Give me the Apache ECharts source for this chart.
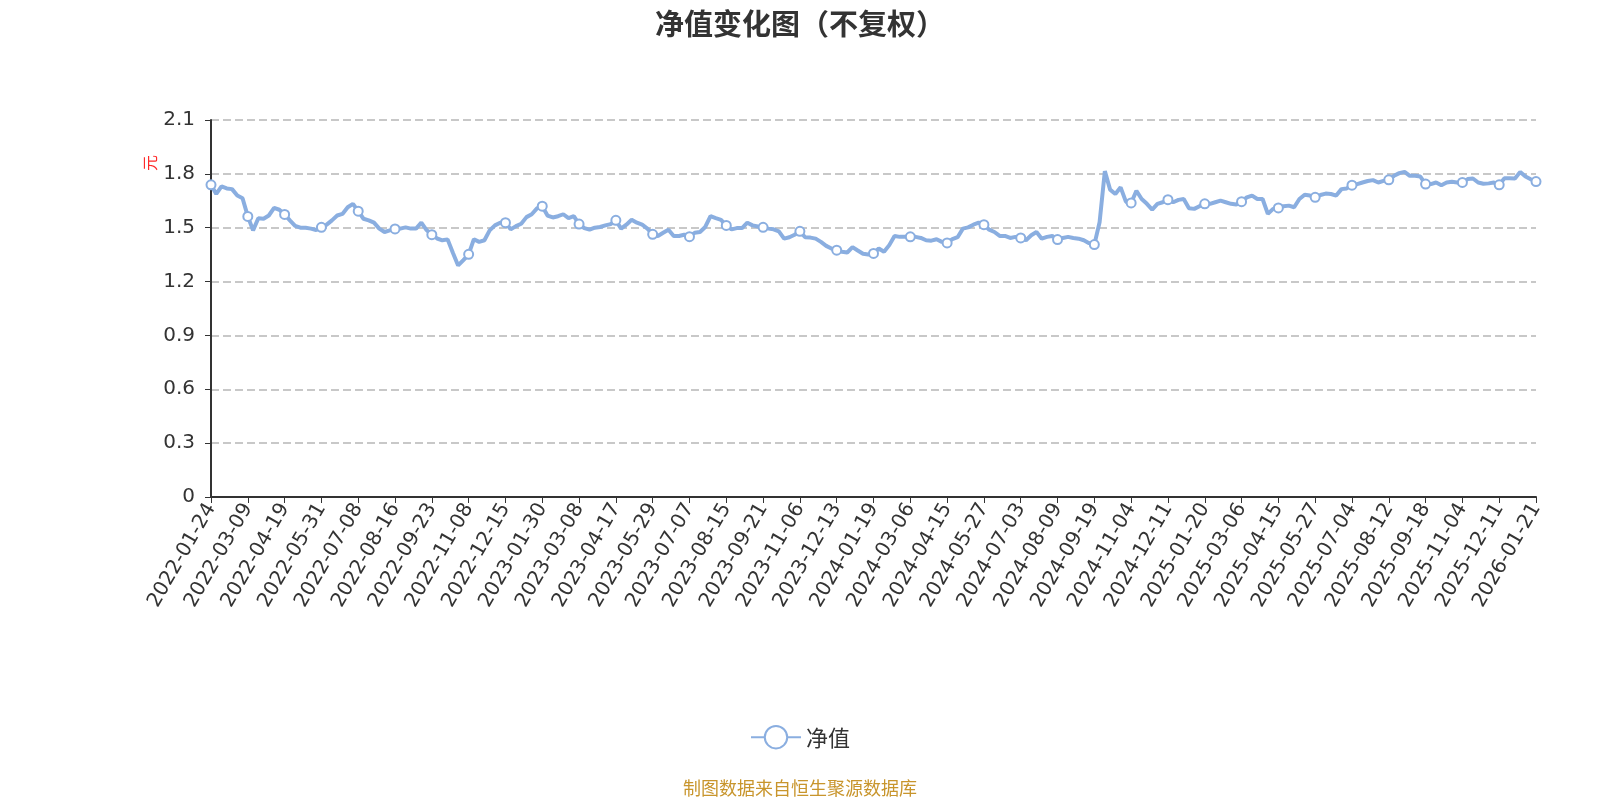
<!DOCTYPE html>
<html>
<head>
<meta charset="utf-8">
<title>净值变化图（不复权）</title>
<script src="https://cdn.jsdelivr.net/npm/echarts@6/dist/echarts.min.js"></script>
<style>
  html, body { margin: 0; padding: 0; background: #fff; }
  #chart { width: 1600px; height: 800px; }
</style>
</head>
<body>
<div id="chart"></div>
<script>
// dates printed under the x axis (one every 7 points)
const labelDates = [
  "2022-01-24", "2022-03-09", "2022-04-19", "2022-05-31", "2022-07-08", "2022-08-16",
  "2022-09-23", "2022-11-08", "2022-12-15", "2023-01-30", "2023-03-08", "2023-04-17",
  "2023-05-29", "2023-07-07", "2023-08-15", "2023-09-21", "2023-11-06", "2023-12-13",
  "2024-01-19", "2024-03-06", "2024-04-15", "2024-05-27", "2024-07-03", "2024-08-09",
  "2024-09-19", "2024-11-04", "2024-12-11", "2025-01-20", "2025-03-06", "2025-04-15",
  "2025-05-27", "2025-07-04", "2025-08-12", "2025-09-18", "2025-11-04", "2025-12-11",
  "2026-01-21"
];

// 净值 (元), 7 samples per label interval
const navValues = [
  1.739, 1.688, 1.730, 1.719, 1.715, 1.679, 1.664,
  1.563, 1.485, 1.553, 1.550, 1.568, 1.610, 1.600,
  1.574, 1.541, 1.510, 1.500, 1.500, 1.495, 1.487,
  1.502, 1.517, 1.541, 1.568, 1.577, 1.614, 1.633,
  1.592, 1.550, 1.541, 1.528, 1.495, 1.476, 1.485,
  1.493, 1.495, 1.502, 1.495, 1.495, 1.528, 1.487,
  1.461, 1.440, 1.430, 1.435, 1.360, 1.290, 1.320,
  1.352, 1.436, 1.421, 1.430, 1.485, 1.513, 1.528,
  1.528, 1.491, 1.509, 1.522, 1.559, 1.575, 1.608,
  1.620, 1.568, 1.557, 1.564, 1.575, 1.553, 1.564,
  1.520, 1.498, 1.489, 1.500, 1.504, 1.513, 1.520,
  1.541, 1.495, 1.517, 1.544, 1.528, 1.517, 1.495,
  1.463, 1.454, 1.472, 1.489, 1.454, 1.454, 1.461,
  1.450, 1.472, 1.476, 1.504, 1.564, 1.553, 1.544,
  1.513, 1.491, 1.498, 1.498, 1.528, 1.513, 1.507,
  1.502, 1.495, 1.491, 1.480, 1.439, 1.447, 1.461,
  1.480, 1.447, 1.445, 1.439, 1.421, 1.399, 1.384,
  1.375, 1.366, 1.362, 1.392, 1.373, 1.355, 1.351,
  1.357, 1.384, 1.366, 1.403, 1.454, 1.449, 1.449,
  1.449, 1.449, 1.443, 1.430, 1.428, 1.436, 1.421,
  1.415, 1.436, 1.447, 1.495, 1.502, 1.517, 1.528,
  1.517, 1.489, 1.476, 1.454, 1.454, 1.443, 1.449,
  1.443, 1.430, 1.458, 1.476, 1.439, 1.449, 1.454,
  1.434, 1.443, 1.449, 1.443, 1.439, 1.430, 1.414,
  1.406, 1.530, 1.815, 1.712, 1.688, 1.725, 1.645,
  1.638, 1.706, 1.660, 1.633, 1.601, 1.633, 1.642,
  1.656, 1.642, 1.655, 1.660, 1.609, 1.605, 1.620,
  1.633, 1.633, 1.642, 1.651, 1.642, 1.633, 1.629,
  1.645, 1.669, 1.679, 1.660, 1.660, 1.577, 1.605,
  1.610, 1.620, 1.623, 1.614, 1.660, 1.684, 1.679,
  1.669, 1.682, 1.690, 1.688, 1.679, 1.715, 1.719,
  1.737, 1.743, 1.752, 1.760, 1.765, 1.752, 1.761,
  1.767, 1.789, 1.804, 1.811, 1.789, 1.789, 1.785,
  1.743, 1.743, 1.752, 1.737, 1.752, 1.756, 1.752,
  1.752, 1.771, 1.774, 1.752, 1.745, 1.747, 1.752,
  1.739, 1.776, 1.776, 1.774, 1.811, 1.785, 1.770,
  1.757
];

// y axis ticks: 0, 0.3 ... 2.1
const yMin = 0;
const yMax = 2.1;
const yStep = 0.3;

const STEP = 7;
const lineColor = "#8aaee0";
const font = "Noto Sans CJK SC";
const numFont = "DejaVu Sans";

// category names: label dates, with in-between dates filled by calendar
let categories = [];
labelDates.forEach((d, i) => {
  categories.push(d);
  if (i === labelDates.length - 1) return;
  let a = new Date(d + "T00:00:00Z").getTime();
  let b = new Date(labelDates[i + 1] + "T00:00:00Z").getTime();
  for (let j = 1; j < STEP; j++) {
    let t = new Date(a + Math.round((b - a) * j / STEP / 864e5) * 864e5);
    categories.push(t.toISOString().slice(0, 10));
  }
});

let chart = echarts.init(document.getElementById("chart"));

let option = {
  animation: false,
  backgroundColor: "#fff",
  textStyle: { fontFamily: font },
  title: [
    {
      text: "净值变化图（不复权）",
      left: "center",
      top: 4,
      textStyle: { fontSize: 29, fontWeight: "bold", color: "#333", fontFamily: font }
    },
    {
      text: "制图数据来自恒生聚源数据库",
      left: "center",
      top: 779,
      padding: 0,
      textStyle: { fontSize: 18, fontWeight: "normal", color: "#c8952c", fontFamily: font }
    }
  ],
  legend: {
    data: ["净值"],
    top: 720,
    left: "center",
    itemWidth: 50,
    itemHeight: 28,
    textStyle: { fontSize: 22, color: "#333", fontFamily: font }
  },
  grid: {
    left: 211,
    right: 64,
    top: 120,
    bottom: 303
  },
  graphic: [
    {
      type: "text",
      left: 142,
      top: 155,
      rotation: Math.PI / 2,
      style: { text: "元", fill: "#ff2a2a", fontSize: 16, fontFamily: font }
    }
  ],
  xAxis: {
    type: "category",
    boundaryGap: false,
    data: categories,
    axisLine: { lineStyle: { color: "#333", width: 2 } },
    axisTick: { interval: STEP - 1, length: 6, lineStyle: { color: "#333" } },
    axisLabel: {
      interval: STEP - 1,
      rotate: 60,
      fontSize: 20,
      fontFamily: numFont,
      color: "#333",
      margin: 8
    }
  },
  yAxis: {
    type: "value",
    min: yMin,
    max: yMax,
    interval: yStep,
    axisLine: { show: true, lineStyle: { color: "#333", width: 2 } },
    axisTick: { show: true, length: 6, lineStyle: { color: "#333" } },
    axisLabel: { fontSize: 20, fontFamily: numFont, color: "#333", margin: 16 },
    splitLine: { lineStyle: { type: "dashed", color: "#c8c8c8", width: 2 } }
  },
  series: [
    {
      name: "净值",
      type: "line",
      data: navValues,
      symbol: "emptyCircle",
      symbolSize: 9,
      showAllSymbol: "auto",
      lineStyle: { color: lineColor, width: 4 },
      itemStyle: { color: lineColor, borderWidth: 2 }
    }
  ]
};

chart.setOption(option);
</script>
</body>
</html>
